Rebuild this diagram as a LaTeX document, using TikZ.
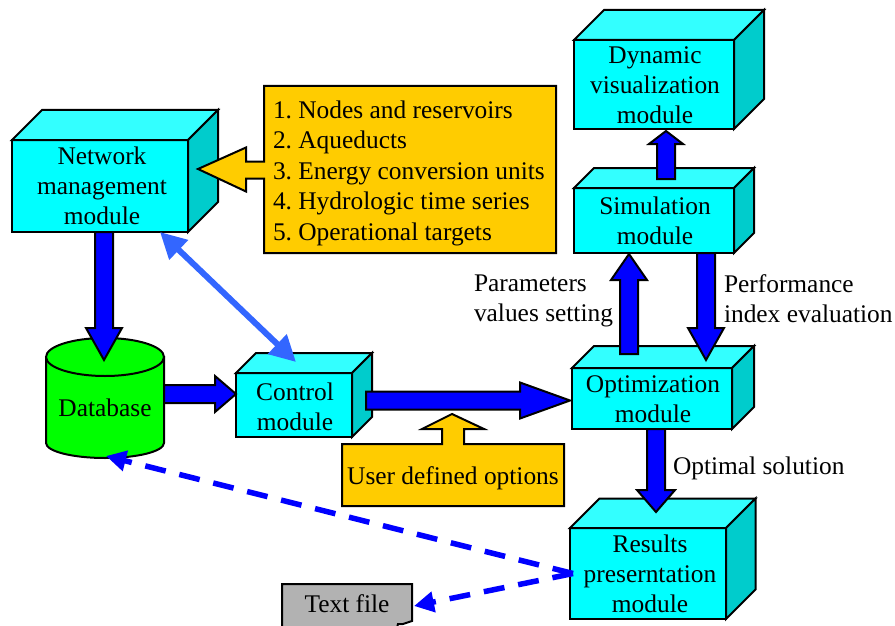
\documentclass[tikz,border=0pt]{standalone}
\usepackage{fontspec}
\setmainfont{Liberation Serif}
\usetikzlibrary{calc,arrows.meta}
\definecolor{frontc}{HTML}{00FFFF}
\definecolor{topc}{HTML}{33FFFF}
\definecolor{sidec}{HTML}{00CCCC}
\definecolor{goldc}{HTML}{FFCC00}
\definecolor{bluec}{HTML}{0000FF}
\definecolor{lightb}{HTML}{3366FF}
\definecolor{grayc}{HTML}{B2B2B2}
\tikzset{
  txt/.style={font=\fontsize{25.4}{30}\selectfont\frenchspacing,align=center,inner sep=0pt,outer sep=0pt},
  lbl/.style={txt,align=left},
  edge/.style={draw=black,line width=2pt},
  front/.style={edge,fill=frontc,inner sep=0pt,outer sep=0pt},
  topface/.style={edge,fill=topc},
  sideface/.style={edge,fill=sidec},
  blockar/.style={edge,fill=bluec},
  gold/.style={edge,fill=goldc},
  anchorbox/.style={inner sep=0pt,outer sep=0pt},
  dashar/.style={draw=bluec,line width=5.5pt,dash pattern=on 21pt off 14pt,-{Triangle[length=20pt,width=20pt]}},
  bothar/.style={draw=lightb,line width=6pt,{Triangle[length=26pt,width=26pt]}-{Triangle[length=26pt,width=26pt]}},
}
% name, x1, y1, x2, y2, depth, text, text shift
\newcommand\modbox[8]{%
  \node[front,minimum width={#4pt-#2pt},minimum height={#5pt-#3pt}] (#1) at ({(#2+#4)/2},{(#3+#5)/2}) {};
  \draw[topface] (#1.north west) -- ++(#6,-#6) -- ($(#1.north east)+(#6,-#6)$) -- (#1.north east) -- cycle;
  \draw[sideface] (#1.north east) -- ++(#6,-#6) -- ($(#1.south east)+(#6,-#6)$) -- (#1.south east) -- cycle;
  \node[txt] (#1text) at ($(#1)+(#8)$) {#7};
}
% from, to, shaft half width, head half width, head length
\newcommand\blockarrow[5]{%
  \coordinate (aa) at #1;
  \coordinate (bb) at #2;
  \coordinate (cc) at ($(bb)!#5pt!(aa)$);
  \draw[blockar] ($(aa)!#3pt!90:(bb)$) -- ($(cc)!#3pt!90:(bb)$) -- ($(cc)!#4pt!90:(bb)$) -- (bb)
    -- ($(cc)!#4pt!-90:(bb)$) -- ($(cc)!#3pt!-90:(bb)$) -- ($(aa)!#3pt!-90:(bb)$) -- cycle;
}
\begin{document}
\begin{tikzpicture}[x=1pt,y=-1pt]
\useasboundingbox (0,0) rectangle (895,626);
% modules
\modbox{net}{12}{140}{188}{232}{30}{Network\\management\\module}{2,0}
\modbox{dyn}{574}{40}{734}{129}{30}{Dynamic\\visualization\\module}{1,1}
\modbox{sim}{574}{188}{734}{253}{20}{Simulation\\module}{1,0}
\modbox{opt}{572}{368}{732}{429}{22}{Optimization\\module}{1,1}
\modbox{ctl}{236}{373}{352}{437}{20}{Control\\module}{1,2}
\modbox{res}{570}{528}{726}{619}{29.5}{Results\\preserntation\\module}{2,0}
% database
\node[anchorbox,minimum width=118pt,minimum height=120pt] (db) at (105,398) {};
\draw[edge,fill=green] (46,357) -- (46,443) .. controls (46,451.3) and (72.4,458) .. (105,458)
  .. controls (137.6,458) and (164,451.3) .. (164,443) -- (164,357) -- cycle;
\draw[edge,fill=green] (105,357) ellipse [x radius=59pt,y radius=19pt];
\node[txt] (dbtext) at ($(db)+(0,10)$) {Database};
% list callout
\node[anchorbox,minimum width=292pt,minimum height=167pt] (listbox) at (410,169.5) {};
\draw[gold] (listbox.north west) -- (listbox.north east) -- (listbox.south east) -- (listbox.south west)
  -- ($(listbox.west)+(0,9)$) -- ($(listbox.west)+(-18,9)$) -- ($(listbox.west)+(-18,22)$)
  -- (198,169) -- ($(listbox.west)+(-18,-22)$) -- ($(listbox.west)+(-18,-8)$)
  -- ($(listbox.west)+(0,-8)$) -- cycle;
\node[lbl,font=\fontsize{25.4}{30.5}\selectfont\frenchspacing,anchor=west] (listtext) at ($(listbox.west)+(9,3.5)$) {1. Nodes and reservoirs\\2. Aqueducts\\3. Energy conversion units\\4. Hydrologic time series\\5. Operational targets};
% user options callout
\node[anchorbox,minimum width=222pt,minimum height=62pt] (userbox) at (453,475) {};
\draw[gold] (userbox.south west) -- (userbox.north west) -- ($(userbox.north)+(-11,0)$) -- ($(userbox.north)+(-11,-15)$)
  -- ($(userbox.north)+(-31,-15)$) -- ($(userbox.north)+(-1,-30)$) -- ($(userbox.north)+(31,-15)$)
  -- ($(userbox.north)+(11,-15)$) -- ($(userbox.north)+(11,0)$) -- (userbox.north east) -- (userbox.south east) -- cycle;
\node[txt] (usertext) at ($(userbox)+(0,3)$) {User defined options};
% text file
\node[anchorbox,minimum width=130pt,minimum height=42pt] (tfile) at (347,605) {};
\draw[edge,fill=grayc] (tfile.north west) -- (tfile.north east) -- ($(tfile.north east)+(0,37)$)
  -- ($(tfile.north east)+(-9,40)$) -- ($(tfile.north east)+(-14,40)$) -- ($(tfile.north east)+(-15,44)$)
  -- ($(tfile.north west)+(0,44)$) -- cycle;
\node[txt] (tfiletext) at ($(tfile)+(0,-1)$) {Text file};
% block arrows
\blockarrow{($(net.south)+(4,0)$)}{($(db.north)+(-1,22)$)}{9}{18}{32}
\blockarrow{($(db.east)+(0,-4)$)}{($(ctl.west)+(0,-11)$)}{9}{18}{21}
\blockarrow{($(ctl.east)+(14,-4.5)$)}{($(opt.west)+(-2,2)$)}{9}{18}{50}
\blockarrow{($(opt.north)+(-23,-14)$)}{($(sim.south)+(-25,1)$)}{9}{18}{26}
\blockarrow{($(sim.south)+(52,0)$)}{($(opt.north)+(54,-8)$)}{9}{18}{32}
\blockarrow{($(sim.north)+(12,-9)$)}{($(dyn.south)+(12,2)$)}{9}{17}{13}
\blockarrow{($(opt.south)+(4,0)$)}{($(res.north)+(8,-16)$)}{9}{19}{22}
% other connectors
\draw[bothar] ($(net.south)+(60,0)$) -- ($(ctl.north)+(2,-11)$);
\coordinate (dashstart) at ($(res.west)+(3,0)$);
\draw[dashar] (dashstart) -- ($(db.south)+(1,-2)$);
\draw[dashar] (dashstart) -- ($(tfile.east)+(2,1)$);
% labels
\node[lbl,anchor=west] (lpar) at (474,301) {Parameters\\values setting};
\node[lbl,anchor=west] (lperf) at (724,299) {Performance\\index evaluation};
\node[lbl,anchor=west] (lopt) at (673,468) {Optimal solution};
\end{tikzpicture}
\end{document}
